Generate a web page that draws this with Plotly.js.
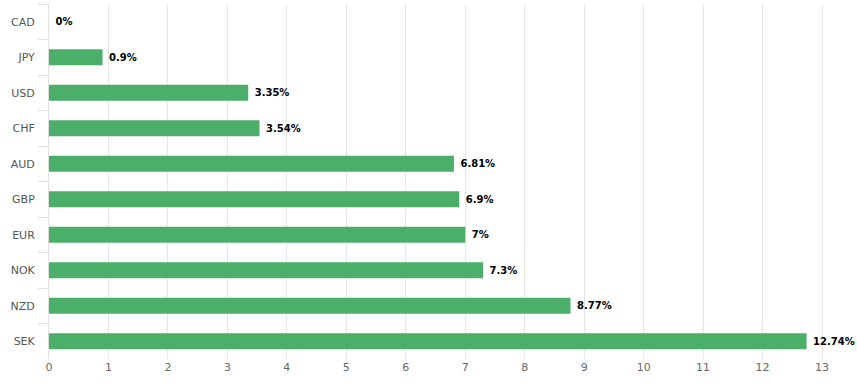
<!DOCTYPE html>
<html><head><meta charset="utf-8">
<script src="https://cdn.plot.ly/plotly-3.0.1.min.js"></script>
<style>html,body{margin:0;padding:0;background:#fff;}#chart{width:857px;height:390px;}</style>
</head><body><div id="chart"></div>
<script>
const categories = ["CAD","JPY","USD","CHF","AUD","GBP","EUR","NOK","NZD","SEK"];
const values = [0, 0.9, 3.35, 3.54, 6.81, 6.9, 7, 7.3, 8.77, 12.74];
const labels = values.map(v => " " + v + "%");
const xTicks = [0,1,2,3,4,5,6,7,8,9,10,11,12,13];

const trace = {
  type: "bar", orientation: "h",
  x: values, y: categories,
  marker: {color: "rgb(76,175,105)", line: {width: 0}},
  width: 0.45,
  text: labels, textposition: "outside", cliponaxis: false,
  textfont: {family: "DejaVu Sans", size: 10, color: "#000", weight: "bold"},
  hoverinfo: "none"
};
const layout = {
  width: 857, height: 390,
  margin: {l: 49, r: 10, t: 4, b: 31},
  paper_bgcolor: "#fff", plot_bgcolor: "#fff",
  showlegend: false,
  font: {family: "DejaVu Sans", size: 11, color: "#666"},
  xaxis: {range: [0, 13.42], tickvals: xTicks, ticktext: xTicks.map(String),
    showgrid: true, gridcolor: "#e6e6e6", gridwidth: 1, zeroline: false,
    showline: false, ticks: "", tickfont: {size: 11, color: "#666"}, fixedrange: true},
  yaxis: {type: "category", autorange: "reversed", tickson: "boundaries",
    ticks: "outside", ticklen: 10, tickcolor: "#e0e0e0", tickwidth: 1,
    ticklabelstandoff: 11,
    showline: true, linecolor: "#e0e0e0", linewidth: 1,
    showgrid: false, zeroline: false,
    tickfont: {size: 11, color: "#555"}, fixedrange: true}
};
Plotly.newPlot("chart", [trace], layout, {staticPlot: true, displayModeBar: false});
</script></body></html>
